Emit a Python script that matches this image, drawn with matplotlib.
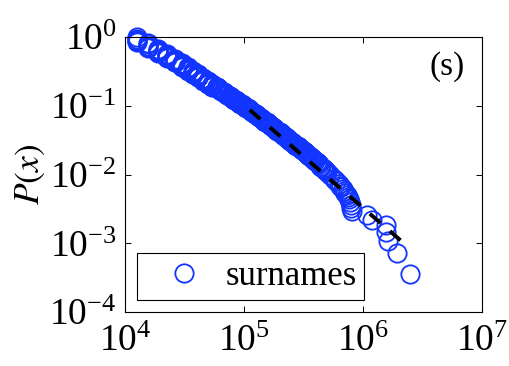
import matplotlib
matplotlib.use('Agg')
import matplotlib.pyplot as plt
from matplotlib.ticker import FixedLocator, LogFormatterMathtext

plt.rcParams['font.family'] = 'serif'
plt.rcParams['font.serif'] = ['Liberation Serif', 'DejaVu Serif']
plt.rcParams['mathtext.fontset'] = 'stix'

# empirical CCDF of surname frequencies, P(x) = Pr(X >= x)
# low end: counts are coarse, so several names share one x (stacked points)
surname_x = [
    12500, 12500, 12500, 12500, 12500,
    15700, 15700, 15700, 15700, 15700,
    19100, 19100, 19100, 19100, 19100,
    22400, 22400, 22400, 22400, 22400,
    26300, 26300, 26300, 26300, 26300,
    29900, 29900, 29900, 29900, 29900,
    33600, 33600, 33600, 33600, 33600,
    37500, 37500, 37500, 37500, 37500,
    41300, 41300, 41300, 41300, 41300,
    45500, 45500, 45500, 45500, 45500,
    50100, 50100, 50100, 50100, 50100,
    54200, 54200, 54200, 54200, 54200,
    58900, 58900, 58900, 58900,
    60256, 61660, 63096, 64565, 66069, 67608, 69183, 70795, 72444, 74131,
    75858, 77625, 79433, 81283, 83176, 85114, 87096, 89125, 91201, 93325,
    95499, 97724, 100000, 102329, 104713, 107152, 109648, 111940,
    114815, 117490, 120226, 123027, 125893, 128825, 131826, 134896, 138038,
    141254, 144544, 147911, 151356, 154882, 158489, 162181, 165959, 169824,
    173780, 177828,
    181970, 186209, 190546, 194984, 199526, 204174, 208930, 213796, 218776,
    223872, 229087, 234423, 239883, 245471, 251189, 257040, 263027, 269153,
    275423, 281838, 288403, 295121, 301995, 309030, 316228, 323594, 331131,
    338844,
    346737, 354813, 363078, 371535, 380189, 389045, 398107, 407380, 416869,
    426580, 436516, 446684, 457088, 467735, 478630, 489779, 501187,
    528000, 569000, 596000, 628000, 644000, 658000, 673000, 692000, 711000,
    729000, 750000, 767000, 776000, 787000, 794000, 804000,
    1074000, 1180000, 1550000, 1550000, 1630000, 1920000, 2480000,
]
surname_p = [
    1.0, 0.95, 0.91, 0.87, 0.84,
    0.82, 0.785, 0.75, 0.72, 0.695,
    0.68, 0.65, 0.625, 0.60, 0.58,
    0.57, 0.547, 0.526, 0.505, 0.495,
    0.485, 0.468, 0.452, 0.437, 0.428,
    0.42, 0.406, 0.392, 0.379, 0.37,
    0.365, 0.353, 0.342, 0.331, 0.325,
    0.32, 0.311, 0.302, 0.294, 0.289,
    0.285, 0.277, 0.269, 0.262, 0.258,
    0.255, 0.248, 0.241, 0.234, 0.231,
    0.228, 0.222, 0.216, 0.210, 0.207,
    0.205, 0.200, 0.195, 0.191, 0.189,
    0.187, 0.185, 0.183, 0.181,
    0.1788, 0.1741, 0.1695, 0.1650, 0.1607, 0.1565, 0.1523, 0.1483, 0.1444,
    0.1406, 0.1369, 0.1333, 0.1298, 0.1264, 0.1230, 0.1198, 0.1166, 0.1135,
    0.1105, 0.1076, 0.1048, 0.1020, 0.0994, 0.0967, 0.0942, 0.0917, 0.0893,
    0.0868,
    0.0841, 0.0816, 0.0793, 0.0769, 0.0747, 0.0725, 0.0704, 0.0684, 0.0663,
    0.0644, 0.0625, 0.0607, 0.0589, 0.0572, 0.0555, 0.0539, 0.0523, 0.0508,
    0.0493, 0.0479,
    0.0464, 0.0450, 0.0436, 0.0422, 0.0409, 0.0397, 0.0385, 0.0373, 0.0361,
    0.0350, 0.0339, 0.0329, 0.0319, 0.0309, 0.0300, 0.0290, 0.0281, 0.0273,
    0.0264, 0.0256, 0.0248, 0.0241, 0.0233, 0.0226, 0.0219, 0.0212, 0.0206,
    0.0200,
    0.0193, 0.0186, 0.0179, 0.0173, 0.0167, 0.0161, 0.0155, 0.0150, 0.0145,
    0.0140, 0.0135, 0.0130, 0.0126, 0.0121, 0.0117, 0.0113, 0.0109,
    9.81e-3, 8.72e-3, 7.99e-3, 7.26e-3, 6.90e-3, 6.54e-3, 6.18e-3, 5.81e-3,
    5.45e-3, 5.09e-3, 4.72e-3, 4.36e-3, 4.00e-3, 3.63e-3, 3.27e-3, 2.91e-3,
    2.54e-3, 2.18e-3, 1.82e-3, 1.45e-3, 1.09e-3, 7.26e-4, 3.63e-4,
]

# power-law fit above x_min
fit_x = [111940, 2150000]
fit_p = [0.0868, 1.04e-3]

series_label = 'surnames'
panel_label = '(s)'
x_ticks = [1e4, 1e5, 1e6, 1e7]
y_ticks = [1e-4, 1e-3, 1e-2, 1e-1, 1e0]

blue = '#1234ff'

fig = plt.figure(figsize=(5.09, 3.66), dpi=100)
ax = fig.add_axes([0.2456, 0.1475, 0.7014, 0.7514])

ax.loglog(surname_x, surname_p, 'o', mfc='none', mec=blue, ms=13.2, mew=1.3,
          label=series_label, clip_on=False, zorder=2)
ax.loglog(fit_x, fit_p, '--', color='k', lw=2.8, dashes=(3.6, 3.2), zorder=3)

ax.set_xlim(1e4, 1e7)
ax.set_ylim(1e-4, 1)
ax.xaxis.set_major_locator(FixedLocator(x_ticks))
ax.yaxis.set_major_locator(FixedLocator(y_ticks))
ax.xaxis.set_major_formatter(LogFormatterMathtext())
ax.yaxis.set_major_formatter(LogFormatterMathtext())

ax.tick_params(which='both', direction='in', top=True, right=True)
ax.tick_params(which='major', length=4.5, width=0.7, labelsize=27)
ax.tick_params(axis='x', which='major', pad=9)
ax.tick_params(axis='y', which='major', pad=6)
ax.tick_params(which='minor', length=2.5, width=0.6)
for s in ax.spines.values():
    s.set_linewidth(0.8)

ax.set_ylabel('$P(x)$', fontsize=25.5, va='center')
ax.yaxis.set_label_coords(-0.266, 0.5)

ax.text(0.902, 0.891, panel_label, transform=ax.transAxes,
        ha='center', va='center', fontsize=24)

leg = ax.legend(loc='lower left', bbox_to_anchor=(0, 0), borderaxespad=0.35,
                fontsize=25, fancybox=False, edgecolor='k', framealpha=1,
                borderpad=0.2, handlelength=2.3, handletextpad=0.05,
                numpoints=1)
leg.get_frame().set_linewidth(0.8)

fig.savefig('out.png', dpi=100)
